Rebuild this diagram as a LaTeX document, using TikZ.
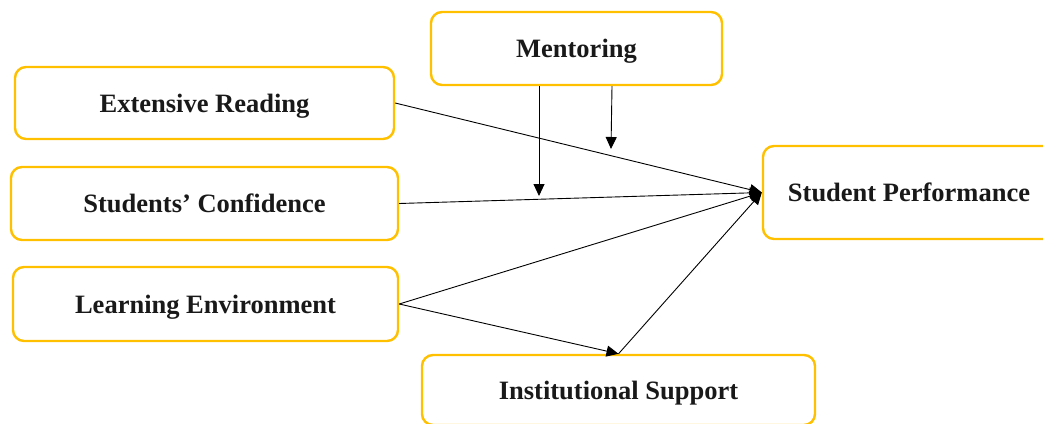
\documentclass[tikz,border=0pt]{standalone}
\usepackage{fontspec}
\setmainfont{Liberation Serif}
\usetikzlibrary{arrows.meta}
\definecolor{boxgold}{RGB}{255,192,0}
\tikzset{
  varbox/.style={draw=boxgold, line width=2.4pt, rounded corners=11pt, fill=white,
    inner sep=0pt, text height=24.5pt, text depth=6pt,
    font=\fontsize{26.5}{30}\selectfont\bfseries, text=black!90},
  link/.style={draw=black, line width=0.9pt, -{Triangle[length=12pt,width=11pt]}},
}
\begin{document}
\begin{tikzpicture}[x=1pt,y=-1pt]
\useasboundingbox (0,0) rectangle (1043,423);
\clip (0,0) rectangle (1043,423);
\fill[white] (0,0) rectangle (1043,423);
\node[varbox, minimum width=379pt, minimum height=72pt] (er) at (204.5,103) {Extensive Reading};
\node[varbox, minimum width=387pt, minimum height=73pt] (sc) at (204.5,203.5) {Students’ Confidence};
\node[varbox, minimum width=385pt, minimum height=74pt] (le) at (205.5,304) {Learning Environment};
\node[varbox, minimum width=291pt, minimum height=73pt] (m) at (576.5,48.5) {Mentoring};
\node[varbox, minimum width=292pt, minimum height=93pt] (sp) at (909,192.5) {Student Performance};
\node[varbox, minimum width=393pt, minimum height=70pt] (is) at (618.5,390) {Institutional Support};
\coordinate (m1) at (539,196);
\coordinate (m2) at (611,149);
\draw[link] (er.east) -- (sp.west);
\draw[link] (sc.east) -- (sp.west);
\draw[link] (le.east) -- (sp.west);
\draw[link] (le.east) -- (is.north);
\draw[link] (is.north) -- (sp.west);
\draw[link] (m.south -| m1) -- (m1);
\draw[link] (m.south -| 612,0) -- (m2);
\end{tikzpicture}
\end{document}
